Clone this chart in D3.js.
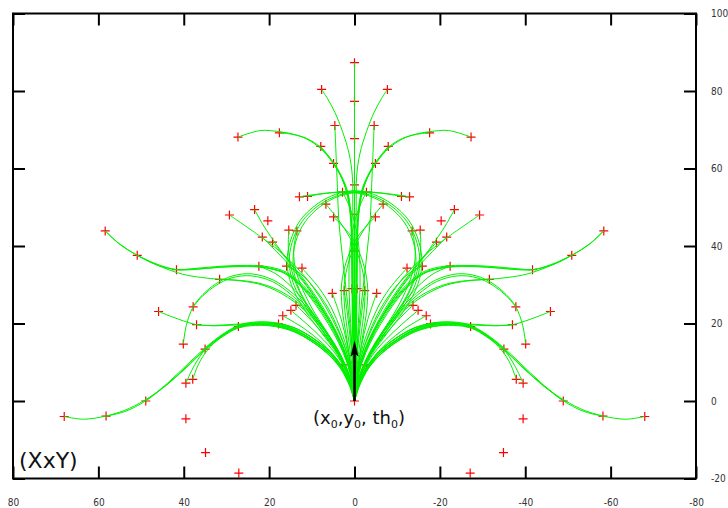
<!DOCTYPE html>
<html><head><meta charset="utf-8">
<script src="https://cdn.jsdelivr.net/npm/d3@7"></script>
<style>html,body{margin:0;padding:0;background:#fff;} svg{display:block;}</style>
</head><body>
<svg id="chart" width="728" height="508"></svg>
<script>
// ---- tick values / labels ----
const xTicks = [80, 60, 40, 20, 0, -20, -40, -60, -80];
const xTickLabels = ["80", "60", "40", "20", "0", "-20", "-40", "-60", "-80"];
const yTicks = [-20, 0, 20, 40, 60, 80, 100];
const yTickLabels = ["-20", "0", "20", "40", "60", "80", "100"];

// ---- trajectories (waypoints), left half (x > 0) ----
const pathsLeft = [
 [[0,0],[1,4],[3,8.6],[6.2,12.7],[10,15.9],[14.2,18.5],[18.4,19.8],[23,20],[27,19.2],[31,16.8],[35,13.4],[39,9.2],[44,4.2],[49,0],[53.5,-2.6],[58.2,-3.9],[63.5,-4.7],[68,-4]],
 [[0,0],[1.1,4],[3.2,8.5],[6.5,12.5],[10.3,15.6],[14.5,18.1],[18.7,19.3],[23.2,19.5],[27.3,18.8],[31.3,16.3],[35.3,12.9],[39.5,8.5],[44.5,3.7],[49.3,0.1],[53.8,-2.4],[58.2,-3.9]],
 [[0,0],[0.9,4],[2.8,8.7],[5.9,12.9],[9.7,16.2],[13.9,18.8],[18.1,20.1],[22.8,20.4],[26.8,19.7],[30.8,17.3],[34.8,13.9],[38.8,9.8],[43.8,4.6],[48.9,0]],
 [[0,0],[1,4.1],[3.1,8.8],[6.3,12.8],[10.1,16],[14.3,18.6],[18.5,19.9],[23.1,20.1],[27.1,19.3],[31,16.9],[34.8,13.5],[37.5,9.2],[39.5,4.6]],
 [[0,0],[1.2,4],[3.4,8.6],[6.7,12.6],[10.5,15.7],[14.6,18.2],[18.8,19.5],[23.3,19.7],[27.3,19],[31.2,16.5],[34.4,13.2],[36.5,9.6],[37.9,5.6]],
 [[0,0],[0.9,4.2],[2.9,8.9],[6,13],[9.8,16.3],[14,18.8],[18.2,20.1],[22.9,20.3],[27,19.4],[31,17],[35,13.4]],
 [[0,0],[1,4.1],[3,8.6],[6.2,12.6],[10,15.8],[14.2,18.4],[18.4,19.6],[23,19.9],[27.2,19.2]],
 [[0,0],[0.9,4],[2.9,8.6],[6,12.8],[9.8,16.2],[13.9,18.8],[17.8,19.9]],
 [[0,0],[1,4],[3,8.4],[6.1,12.4],[9.9,15.6],[14,18.1],[18.2,19.4],[23,19.9],[28,19.8],[33,19.5],[37,19.7],[41.2,21.1],[45.9,23.1]],
 [[0,0],[1.1,4],[3.2,8.4],[6.4,12.3],[10.2,15.5],[14.3,17.9],[18.5,19.2],[23.2,19.7],[28.2,19.6],[33,19.4],[37,19.7]],
 [[0,0],[1.2,6],[3.3,12],[6.5,17.8],[10.3,23.2],[14.5,27.8],[19,31.2],[24,32.8],[28.5,32.3],[32.4,30.3],[35.5,27.5],[37.8,24.3],[39.4,19.5],[40.1,14.7]],
 [[0,0],[1.3,6],[3.5,12],[6.8,17.8],[10.6,23],[14.8,27.4],[19.2,30.8],[24.2,32.3],[28.7,31.8],[32.5,29.8],[35.5,27.2],[37.8,24.3]],
 [[0,0],[0.5,5],[1.5,10],[3.2,15],[5.5,20],[8.5,25],[12,29.8],[15.9,33.2],[20,34.6],[25,35],[31,34.8],[36.5,34.3],[41.7,33.9],[46.5,35.2],[50.9,37.6],[55,40.5],[58.4,43.9]],
 [[0,0],[1.2,6],[3.4,12],[6.6,17.6],[10.5,22.7],[15.4,27.1],[21,30],[26.5,31.1],[31.6,31.4],[36,31.9],[40.2,32.7],[45.2,34.6],[50.9,37.6],[55.2,40.6],[58.4,43.9]],
 [[0,0],[0.6,5],[1.7,10],[3.5,15],[5.9,20],[8.9,25],[12.4,29.6],[16.2,33],[20.5,34.4],[25.5,34.8],[31.3,34.6],[36.7,34],[41.7,33.9],[46.5,35.4],[50.9,37.6]],
 [[0,0],[0.5,5],[1.6,10],[3.3,15],[5.6,20],[8.6,25],[12.1,29.5],[16,32.9],[20.4,34.3],[25.4,34.7],[31.2,34.5],[36.6,34.1],[41.7,33.9]],
 [[0,0],[1.3,6],[3.6,12],[6.9,17.4],[10.8,22.5],[15.7,26.8],[21.2,29.8],[26.6,31],[31.6,31.4]],
 [[0,0],[0.6,5],[1.8,10],[3.7,15],[6.2,20],[9.2,25],[12.6,29.6],[16.5,33],[22.4,34.8]],
 [[0,0],[1,5],[2.8,10],[5.2,15],[8,20],[11.2,25],[14.8,29.5],[18.4,32.8],[22.4,34.8]],
 [[0,0],[0.5,6],[1.7,12],[3.6,18],[6.2,24],[9.3,29],[12.6,32.8],[15.9,34.8]],
 [[0,0],[0.4,6],[1.4,12],[3.1,18],[5.4,24],[8.2,29],[12.3,34.3]],
 [[0,0],[0.5,6],[1.7,12],[3.8,18],[6.6,24],[9.8,29.5],[13.4,34.3],[17.5,38.6],[22.5,42.8],[29.3,48]],
 [[0,0],[0.6,6],[2,12],[4.3,18],[7.3,24],[10.7,29.6],[14.2,34.6],[17.3,38.8],[19.6,42.4],[21.6,45.8],[23.4,49.4]],
 [[0,0],[0.7,6],[2.2,12],[4.6,18],[7.7,24],[11.2,29.6],[14.8,34.5],[18.3,38.6],[21.6,42.3]],
 [[0,0],[0.6,6],[2.1,12],[4.5,18],[7.6,24],[11,29.6],[14.3,34.4],[16.9,38],[19.2,41]],
 [[0,0],[1.2,6],[3.8,12],[7.4,18],[10.9,24],[13.6,30],[15,35],[15.5,39.5],[15.4,44.1]],
 [[0,0],[1,6],[3.3,12],[6.6,18],[10,24],[12.6,30],[14,35],[14.2,39.5],[13.5,43.9]],
 [[0,0],[1.2,6],[3.8,12],[7.5,18],[11.3,24],[14.2,30],[15.3,35.5],[14.6,41],[12.3,46.3],[8.5,50.4],[3.8,53.1],[-1.5,54],[-7,53.6],[-12.9,52.7]],
 [[0,0],[1,6],[3.4,12],[6.9,18],[10.6,24],[13.4,30],[14.4,35.5],[13.8,41],[11.6,46.2],[8,50.2],[3.5,52.9],[-1.5,53.9],[-6.5,53.6],[-11,52.8]],
 [[0,0],[1.3,6],[4,12],[8,18],[12,24],[14.8,30],[15.8,35.5],[15.1,41],[12.8,46.5],[8.8,50.8],[4.5,53.3],[0.5,54.2],[-2.8,53.9]],
 [[0,0],[-0.5,8],[-1.4,16],[-2.3,24],[-2.4,30],[-1.2,36.5],[1,42],[3.8,46.8],[6.7,50.8]],
 [[0,0],[-0.7,8],[-1.8,16],[-2.9,24],[-3,30.5],[-1.6,37],[0.8,42.5],[4.9,47.5]],
 [[0,0],[-0.4,10],[-0.9,20],[-1.3,30],[-1,40],[0.2,47],[1.5,51],[2.8,53.9]],
 [[0,0],[0.2,10],[0.4,20],[0.5,30],[0.6,40],[0.9,48],[1.8,54],[3.3,58.3],[5.3,61.8],[8,65.2],[11.2,67.6],[14.5,68.9],[17.6,69.5],[22,69.8],[27.3,68.1]],
 [[0,0],[0.3,10],[0.5,20],[0.6,30],[0.7,40],[1,48],[1.9,54],[3.4,58.5],[5.4,62],[8.1,65.6],[11.3,67.8],[14.5,68.8],[17.6,69.2]],
 [[0,0],[0.1,10],[0.3,20],[0.4,30],[0.5,40],[0.8,48],[1.6,54],[3.1,58.2],[5,61.7],[7.9,65.7]],
 [[0,0],[0.2,10],[0.3,20],[0.5,30],[0.6,40],[0.9,48],[1.7,54],[3.2,58],[4.9,61.3]],
 [[0,0],[0.1,10],[0.2,20],[0.3,30],[0.3,40],[0.4,50],[0.5,58],[1.3,64],[2.8,69.5],[4.6,74.5],[6.3,78],[7.7,80.4]],
 [[0,0],[0.3,8],[0.8,16],[1.5,24],[2.3,32],[3.1,40],[3.7,47],[4,55],[4.3,63],[4.6,71.1]],
 [[0,0],[0.6,7],[1.6,14],[3.1,21],[5.2,27.8]],
 [[0,0],[0.3,8],[0.9,15],[1.6,22],[2.4,28.5]],
 [[0,0],[1.2,6],[3.5,11.6],[6.8,16.6],[10.3,21],[13.7,24.7]],
 [[0,0],[1.3,5.8],[3.8,11.2],[7.2,15.7],[11,19.7],[14.9,23.4]],
 [[0,0],[1.4,5.3],[3.9,10.4],[7.5,14.9],[11.8,18.7],[16.8,22]],
 [[0,0],[0.5,3.5],[1.4,6.6],[2.8,9.3]]
];

// ---- trajectories, right half (x < 0) ----
const pathsRight = [
 [[0,0],[-1,4],[-3,8.6],[-6.2,12.7],[-10,15.9],[-14.2,18.5],[-18.4,19.8],[-23,20],[-27,19.2],[-31,16.8],[-35,13.4],[-39,9.2],[-44,4.2],[-49,0],[-53.5,-2.6],[-58.2,-3.9],[-63.5,-4.7],[-68,-4]],
 [[0,0],[-1.1,4],[-3.2,8.5],[-6.5,12.5],[-10.3,15.6],[-14.5,18.1],[-18.7,19.3],[-23.2,19.5],[-27.3,18.8],[-31.3,16.3],[-35.3,12.9],[-39.5,8.5],[-44.5,3.7],[-49.3,0.1],[-53.8,-2.4],[-58.2,-3.9]],
 [[0,0],[-0.9,4],[-2.8,8.7],[-5.9,12.9],[-9.7,16.2],[-13.9,18.8],[-18.1,20.1],[-22.8,20.4],[-26.8,19.7],[-30.8,17.3],[-34.8,13.9],[-38.8,9.8],[-43.8,4.6],[-48.9,0]],
 [[0,0],[-1,4.1],[-3.1,8.8],[-6.3,12.8],[-10.1,16],[-14.3,18.6],[-18.5,19.9],[-23.1,20.1],[-27.1,19.3],[-31,16.9],[-34.8,13.5],[-37.5,9.2],[-39.5,4.6]],
 [[0,0],[-1.2,4],[-3.4,8.6],[-6.7,12.6],[-10.5,15.7],[-14.6,18.2],[-18.8,19.5],[-23.3,19.7],[-27.3,19],[-31.2,16.5],[-34.4,13.2],[-36.5,9.6],[-37.9,5.6]],
 [[0,0],[-0.9,4.2],[-2.9,8.9],[-6,13],[-9.8,16.3],[-14,18.8],[-18.2,20.1],[-22.9,20.3],[-27,19.4],[-31,17],[-35,13.4]],
 [[0,0],[-1,4.1],[-3,8.6],[-6.2,12.6],[-10,15.8],[-14.2,18.4],[-18.4,19.6],[-23,19.9],[-27.2,19.2]],
 [[0,0],[-0.9,4],[-2.9,8.6],[-6,12.8],[-9.8,16.2],[-13.9,18.8],[-17.8,19.9]],
 [[0,0],[-1,4],[-3,8.4],[-6.1,12.4],[-9.9,15.6],[-14,18.1],[-18.2,19.4],[-23,19.9],[-28,19.8],[-33,19.5],[-37,19.7],[-41.2,21.1],[-45.9,23.1]],
 [[0,0],[-1.1,4],[-3.2,8.4],[-6.4,12.3],[-10.2,15.5],[-14.3,17.9],[-18.5,19.2],[-23.2,19.7],[-28.2,19.6],[-33,19.4],[-37,19.7]],
 [[0,0],[-1.2,6],[-3.3,12],[-6.5,17.8],[-10.3,23.2],[-14.5,27.8],[-19,31.2],[-24,32.8],[-28.5,32.3],[-32.4,30.3],[-35.5,27.5],[-37.8,24.3],[-39.4,19.5],[-40.1,14.7]],
 [[0,0],[-1.3,6],[-3.5,12],[-6.8,17.8],[-10.6,23],[-14.8,27.4],[-19.2,30.8],[-24.2,32.3],[-28.7,31.8],[-32.5,29.8],[-35.5,27.2],[-37.8,24.3]],
 [[0,0],[-0.5,5],[-1.5,10],[-3.2,15],[-5.5,20],[-8.5,25],[-12,29.8],[-15.9,33.2],[-20,34.6],[-25,35],[-31,34.8],[-36.5,34.3],[-41.7,33.9],[-46.5,35.2],[-50.9,37.6],[-55,40.5],[-58.4,43.9]],
 [[0,0],[-1.2,6],[-3.4,12],[-6.6,17.6],[-10.5,22.7],[-15.4,27.1],[-21,30],[-26.5,31.1],[-31.6,31.4],[-36,31.9],[-40.2,32.7],[-45.2,34.6],[-50.9,37.6],[-55.2,40.6],[-58.4,43.9]],
 [[0,0],[-0.6,5],[-1.7,10],[-3.5,15],[-5.9,20],[-8.9,25],[-12.4,29.6],[-16.2,33],[-20.5,34.4],[-25.5,34.8],[-31.3,34.6],[-36.7,34],[-41.7,33.9],[-46.5,35.4],[-50.9,37.6]],
 [[0,0],[-0.5,5],[-1.6,10],[-3.3,15],[-5.6,20],[-8.6,25],[-12.1,29.5],[-16,32.9],[-20.4,34.3],[-25.4,34.7],[-31.2,34.5],[-36.6,34.1],[-41.7,33.9]],
 [[0,0],[-1.3,6],[-3.6,12],[-6.9,17.4],[-10.8,22.5],[-15.7,26.8],[-21.2,29.8],[-26.6,31],[-31.6,31.4]],
 [[0,0],[-0.6,5],[-1.8,10],[-3.7,15],[-6.2,20],[-9.2,25],[-12.6,29.6],[-16.5,33],[-22.4,34.8]],
 [[0,0],[-1,5],[-2.8,10],[-5.2,15],[-8,20],[-11.2,25],[-14.8,29.5],[-18.4,32.8],[-22.4,34.8]],
 [[0,0],[-0.5,6],[-1.7,12],[-3.6,18],[-6.2,24],[-9.3,29],[-12.6,32.8],[-15.9,34.8]],
 [[0,0],[-0.4,6],[-1.4,12],[-3.1,18],[-5.4,24],[-8.2,29],[-12.3,34.3]],
 [[0,0],[-0.5,6],[-1.7,12],[-3.8,18],[-6.6,24],[-9.8,29.5],[-13.4,34.3],[-17.5,38.6],[-22.5,42.8],[-29.3,48]],
 [[0,0],[-0.6,6],[-2,12],[-4.3,18],[-7.3,24],[-10.7,29.6],[-14.2,34.6],[-17.3,38.8],[-19.6,42.4],[-21.6,45.8],[-23.4,49.4]],
 [[0,0],[-0.7,6],[-2.2,12],[-4.6,18],[-7.7,24],[-11.2,29.6],[-14.8,34.5],[-18.3,38.6],[-21.6,42.3]],
 [[0,0],[-0.6,6],[-2.1,12],[-4.5,18],[-7.6,24],[-11,29.6],[-14.3,34.4],[-16.9,38],[-19.2,41]],
 [[0,0],[-1.2,6],[-3.8,12],[-7.4,18],[-10.9,24],[-13.6,30],[-15,35],[-15.5,39.5],[-15.4,44.1]],
 [[0,0],[-1,6],[-3.3,12],[-6.6,18],[-10,24],[-12.6,30],[-14,35],[-14.2,39.5],[-13.5,43.9]],
 [[0,0],[-1.2,6],[-3.8,12],[-7.5,18],[-11.3,24],[-14.2,30],[-15.3,35.5],[-14.6,41],[-12.3,46.3],[-8.5,50.4],[-3.8,53.1],[1.5,54],[7,53.6],[12.9,52.7]],
 [[0,0],[-1,6],[-3.4,12],[-6.9,18],[-10.6,24],[-13.4,30],[-14.4,35.5],[-13.8,41],[-11.6,46.2],[-8,50.2],[-3.5,52.9],[1.5,53.9],[6.5,53.6],[11,52.8]],
 [[0,0],[-1.3,6],[-4,12],[-8,18],[-12,24],[-14.8,30],[-15.8,35.5],[-15.1,41],[-12.8,46.5],[-8.8,50.8],[-4.5,53.3],[-0.5,54.2],[2.8,53.9]],
 [[0,0],[0.5,8],[1.4,16],[2.3,24],[2.4,30],[1.2,36.5],[-1,42],[-3.8,46.8],[-6.7,50.8]],
 [[0,0],[0.7,8],[1.8,16],[2.9,24],[3,30.5],[1.6,37],[-0.8,42.5],[-4.9,47.5]],
 [[0,0],[0.4,10],[0.9,20],[1.3,30],[1,40],[-0.2,47],[-1.5,51],[-2.8,53.9]],
 [[0,0],[-0.2,10],[-0.4,20],[-0.5,30],[-0.6,40],[-0.9,48],[-1.8,54],[-3.3,58.3],[-5.3,61.8],[-8,65.2],[-11.2,67.6],[-14.5,68.9],[-17.6,69.5],[-22,69.8],[-27.3,68.1]],
 [[0,0],[-0.3,10],[-0.5,20],[-0.6,30],[-0.7,40],[-1,48],[-1.9,54],[-3.4,58.5],[-5.4,62],[-8.1,65.6],[-11.3,67.8],[-14.5,68.8],[-17.6,69.2]],
 [[0,0],[-0.1,10],[-0.3,20],[-0.4,30],[-0.5,40],[-0.8,48],[-1.6,54],[-3.1,58.2],[-5,61.7],[-7.9,65.7]],
 [[0,0],[-0.2,10],[-0.3,20],[-0.5,30],[-0.6,40],[-0.9,48],[-1.7,54],[-3.2,58],[-4.9,61.3]],
 [[0,0],[-0.1,10],[-0.2,20],[-0.3,30],[-0.3,40],[-0.4,50],[-0.5,58],[-1.3,64],[-2.8,69.5],[-4.6,74.5],[-6.3,78],[-7.7,80.4]],
 [[0,0],[-0.3,8],[-0.8,16],[-1.5,24],[-2.3,32],[-3.1,40],[-3.7,47],[-4,55],[-4.3,63],[-4.6,71.1]],
 [[0,0],[-0.6,7],[-1.6,14],[-3.1,21],[-5.2,27.8]],
 [[0,0],[-0.3,8],[-0.9,15],[-1.6,22],[-2.4,28.5]],
 [[0,0],[-1.2,6],[-3.5,11.6],[-6.8,16.6],[-10.3,21],[-13.7,24.7]],
 [[0,0],[-1.3,5.8],[-3.8,11.2],[-7.2,15.7],[-11,19.7],[-14.9,23.4]],
 [[0,0],[-1.4,5.3],[-3.9,10.4],[-7.5,14.9],[-11.8,18.7],[-16.8,22]],
 [[0,0],[-0.5,3.5],[-1.4,6.6],[-2.8,9.3]]
];

// ---- straight trajectory along x = 0 ----
const centerPath = [[0,0],[0,87.3]];

// ---- red "+" sample points ----
const markersLeft = [[68,-4],[58.2,-3.9],[48.9,0],[39.5,4.6],[37.9,5.6],[39.5,-4.6],[34.9,-13.3],[27.1,-18.6],[40.1,14.7],[35,13.4],[45.9,23.1],[37.8,24.3],[37,19.7],[27.2,19.2],[17.8,19.9],[58.4,43.9],[50.9,37.6],[41.7,33.9],[31.6,31.4],[22.4,34.8],[15.9,34.8],[12.3,34.3],[29.3,48],[23.4,49.4],[20.3,46.5],[21.6,42.3],[19.2,41],[15.4,44.1],[13.5,43.9],[12.9,52.7],[11,52.8],[6.7,50.8],[4.9,47.5],[2.8,53.9],[27.3,68.1],[17.6,69.2],[7.9,65.7],[4.9,61.3],[7.7,80.4],[4.6,71.1],[5.2,27.8],[2.4,28.5],[0.6,29],[13.7,24.7],[14.9,23.4],[16.8,22],[2.8,9.3]];
const markersCenter = [[0,0],[0,87.3],[0,77.3],[0,67.7],[0,55.8],[0,48.2],[0,38.7]];
const markersRight = [[-68,-4],[-58.2,-3.9],[-48.9,0],[-39.5,4.6],[-37.9,5.6],[-39.5,-4.6],[-34.9,-13.3],[-27.1,-18.6],[-40.1,14.7],[-35,13.4],[-45.9,23.1],[-37.8,24.3],[-37,19.7],[-27.2,19.2],[-17.8,19.9],[-58.4,43.9],[-50.9,37.6],[-41.7,33.9],[-31.6,31.4],[-22.4,34.8],[-15.9,34.8],[-12.3,34.3],[-29.3,48],[-23.4,49.4],[-20.3,46.5],[-21.6,42.3],[-19.2,41],[-15.4,44.1],[-13.5,43.9],[-12.9,52.7],[-11,52.8],[-6.7,50.8],[-4.9,47.5],[-2.8,53.9],[-27.3,68.1],[-17.6,69.2],[-7.9,65.7],[-4.9,61.3],[-7.7,80.4],[-4.6,71.1],[-5.2,27.8],[-2.4,28.5],[-0.6,29],[-13.7,24.7],[-14.9,23.4],[-16.8,22],[-2.8,9.3]];

// ---- initial pose arrow ----
const arrowFrom = [0, 0];
const arrowTo = [0, 15.7];

// =================== drawing ===================
const svg = d3.select("#chart");
const x = d3.scaleLinear().domain([80, -80]).range([13, 696]);
const y = d3.scaleLinear().domain([-20, 100]).range([478.5, 13.5]);

// markers (under the lines)
const markers = markersLeft.concat(markersCenter, markersRight);
svg.append("g").selectAll("path").data(markers).join("path")
  .attr("d", d => `M${x(d[0]) - 4.5},${y(d[1])}h9M${x(d[0])},${y(d[1]) - 4.5}v9`)
  .attr("fill", "none").attr("stroke", "#ff0000").attr("stroke-width", 1.2);

// trajectories
const line = d3.line().x(d => x(d[0])).y(d => y(d[1])).curve(d3.curveCatmullRom.alpha(0.5));
svg.append("g").selectAll("path").data(pathsLeft.concat(pathsRight, [centerPath])).join("path")
  .attr("d", line).attr("fill", "none").attr("stroke", "#00f000").attr("stroke-width", 1);

// arrow
const ax = x(arrowTo[0]), ay0 = y(arrowFrom[1]), ay1 = y(arrowTo[1]);
svg.append("line").attr("x1", ax).attr("x2", ax).attr("y1", ay0).attr("y2", ay1 + 12)
  .attr("stroke", "#000").attr("stroke-width", 2.6);
svg.append("path").attr("d", `M${ax},${ay1}L${ax - 4},${ay1 + 16.5}L${ax},${ay1 + 13}L${ax + 4},${ay1 + 16.5}Z`)
  .attr("fill", "#000");

// frame
svg.append("rect").attr("x", x(80)).attr("y", y(100))
  .attr("width", x(-80) - x(80)).attr("height", y(-20) - y(100))
  .attr("fill", "none").attr("stroke", "#000").attr("stroke-width", 2);

function styleAxis(g) {
  g.select(".domain").remove();
  g.selectAll(".tick line").attr("stroke", "#000").attr("stroke-width", 2);
  g.selectAll(".tick text").attr("fill", "#333")
    .style("font-family", "'Liberation Sans Narrow','DejaVu Sans Condensed','Liberation Sans',sans-serif")
    .style("font-size", "10px");
}
svg.append("g").attr("transform", `translate(0,${y(-20)})`)
  .call(d3.axisBottom(x).tickValues(xTicks).tickFormat((d, i) => xTickLabels[i]).tickSizeInner(-12).tickSizeOuter(0).tickPadding(20))
  .call(styleAxis);
svg.append("g").attr("transform", `translate(0,${y(100)})`)
  .call(d3.axisTop(x).tickValues(xTicks).tickFormat("").tickSizeInner(-12).tickSizeOuter(0))
  .call(styleAxis);
svg.append("g").attr("transform", `translate(${x(80)},0)`)
  .call(d3.axisLeft(y).tickValues(yTicks).tickFormat("").tickSizeInner(-12).tickSizeOuter(0))
  .call(styleAxis);
svg.append("g").attr("transform", `translate(${x(-80)},0)`)
  .call(d3.axisRight(y).tickValues(yTicks).tickFormat((d, i) => yTickLabels[i]).tickSizeInner(-12).tickSizeOuter(0).tickPadding(15))
  .call(styleAxis);

// labels
svg.append("text").attr("x", 19).attr("y", 468)
  .style("font-family", "'DejaVu Sans',sans-serif").style("font-size", "22px").attr("fill", "#111")
  .text("(XxY)");

const lab = svg.append("text").attr("x", 313).attr("y", 424)
  .style("font-family", "'DejaVu Sans',sans-serif").style("font-size", "18px").attr("fill", "#111");
lab.append("tspan").text("(x");
lab.append("tspan").attr("dy", 4).style("font-size", "11px").text("0");
lab.append("tspan").attr("dy", -4).text(",y");
lab.append("tspan").attr("dy", 4).style("font-size", "11px").text("0");
lab.append("tspan").attr("dy", -4).text(", th");
lab.append("tspan").attr("dy", 4).style("font-size", "11px").text("0");
lab.append("tspan").attr("dy", -4).text(")");
</script>
</body></html>
